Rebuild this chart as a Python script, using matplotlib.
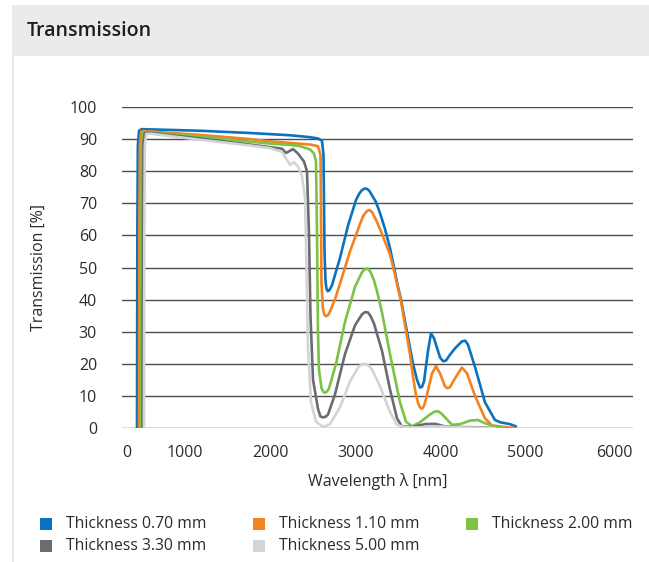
import matplotlib
matplotlib.use("Agg")
import matplotlib.pyplot as plt
import matplotlib.transforms as mtransforms
from matplotlib.patches import Rectangle

plt.rcParams['font.family'] = ['Open Sans', 'DejaVu Sans']

# ---------------- data ----------------
labels = ["Thickness 0.70 mm", "Thickness 1.10 mm", "Thickness 2.00 mm",
          "Thickness 3.30 mm", "Thickness 5.00 mm"]
colors = ["#0b72c0", "#f4821f", "#7cc243", "#6b6c6f", "#d3d4d6"]

wl_070 = [176, 180, 186, 200, 230, 916, 1503, 1973, 2207, 2301, 2348, 2366, 2372, 2378, 2389,
          2400, 2415, 2435, 2466, 2510, 2560, 2653, 2747, 2790, 2818, 2848, 2877, 2906, 2935,
          2980, 3029, 3088, 3147, 3194, 3240, 3276, 3311, 3346, 3381, 3417, 3464, 3499, 3522,
          3546, 3593, 3628, 3663, 3734, 3770, 3804, 3850, 3910, 3992, 4030, 4062, 4145, 4262,
          4379, 4438, 4556, 4626]
tr_070 = [0, 60, 88, 92.6, 93.1, 92.6, 91.9, 91.2, 90.6, 90.2, 89.5, 85, 70, 55, 46,
          43.5, 42.6, 42.9, 44.5, 48.5, 53, 63, 71, 73.2, 74.1, 74.6, 74.5, 73.8, 72.5,
          70.5, 67, 62, 56, 50, 44, 40, 35, 30, 25, 20, 15, 12.6, 12.8,
          14.5, 24, 29.5, 28, 22, 20.8, 21, 22.8, 24.8, 27, 27.2, 26, 19, 8,
          2.5, 1.8, 1.2, 0.5]

wl_110 = [200, 204, 210, 225, 260, 916, 1503, 1738, 2207, 2301, 2331, 2336, 2342, 2360, 2378,
          2395, 2420, 2442, 2500, 2560, 2677, 2794, 2835, 2877, 2906, 2935, 2980, 3029, 3088,
          3147, 3194, 3240, 3276, 3311, 3346, 3381, 3417, 3450, 3480, 3500, 3522, 3545, 3569,
          3640, 3687, 3734, 3792, 3820, 3851, 3922, 3992, 4051, 4145, 4262, 4344, 4497, 4614]
tr_110 = [0, 60, 88, 92.4, 92.5, 91.3, 90.0, 89.3, 88.3, 87.8, 85, 70, 45, 37, 35.2,
          34.8, 35.2, 36.3, 40, 45, 55, 63.5, 66.2, 67.6, 67.9, 67.3, 65, 62, 58,
          54, 49, 43.5, 39.5, 34, 28.5, 23, 16, 10.5, 7.5, 6.4, 6, 6.8, 9,
          17, 19.3, 17, 13, 12.4, 12.7, 16, 18.8, 17, 10, 3, 0.8, 0.3, 0]

wl_200 = [223, 227, 233, 248, 290, 916, 1503, 1738, 1973, 2090, 2207, 2254, 2278, 2290, 2301,
          2313, 2342, 2365, 2383, 2405, 2430, 2513, 2618, 2736, 2818, 2853, 2888, 2920, 2959,
          3000, 3053, 3147, 3264, 3334, 3405, 3499, 3616, 3670, 3710, 3750, 3804, 3875, 3969,
          4086, 4180, 4262, 4379, 4497]
tr_200 = [0, 60, 88, 92.0, 92.2, 90.8, 89.2, 88.6, 88.2, 87.8, 86.8, 85.5, 83, 60, 30,
          18, 12.5, 11.2, 11, 11.3, 12.3, 20, 33, 44, 48.5, 49.5, 49.6, 48.5, 46,
          42, 36, 23, 8, 2, 0.5, 1.8, 4.2, 5.1, 5.2, 4.5, 3, 1, 1.2,
          2.3, 2.5, 1.5, 0.5, 0]

wl_330 = [241, 245, 251, 266, 310, 916, 1503, 1738, 1879, 1925, 1961, 2008, 2066, 2137, 2172,
          2196, 2213, 2243, 2301, 2330, 2360, 2390, 2419, 2501, 2618, 2736, 2818, 2853, 2888,
          2920, 2959, 3053, 3147, 3229, 3287, 3405, 3558, 3675, 3792, 3969, 4203, 4379]
tr_330 = [0, 60, 88, 91.8, 92.0, 90.2, 88.3, 87.5, 87.0, 85.7, 86.2, 86.9, 85.5, 83, 80,
          60, 35, 15, 6, 3.6, 3.3, 3.5, 4.2, 10.5, 23, 32, 35.4, 36.1, 36,
          34.8, 32.5, 24, 12, 3, 0.5, 0.3, 1.2, 1.3, 0.5, 0.3, 0.2, 0]

wl_500 = [258, 262, 268, 285, 330, 916, 1503, 1738, 1879, 1925, 1973, 2019, 2066, 2113, 2149,
          2166, 2184, 2219, 2278, 2360, 2442, 2560, 2677, 2771, 2812, 2853, 2894, 2935, 3029,
          3147, 3229, 3323, 3499, 3734, 3969, 4379]
tr_500 = [0, 60, 88, 91.6, 91.7, 89.8, 88.0, 87.2, 86.0, 84, 82, 82.8, 81.5, 78.5, 72,
          50, 25, 8, 2, 0.3, 1.2, 6.5, 14.5, 18.8, 19.8, 20, 19.5, 18.3, 13,
          5, 1, 0.2, 0.2, 0.5, 0.2, 0]

series_wl = [wl_070, wl_110, wl_200, wl_330, wl_500]
series_tr = [tr_070, tr_110, tr_200, tr_330, tr_500]

x_ticks = [0, 1000, 2000, 3000, 4000, 5000, 6000]
y_ticks = [0, 10, 20, 30, 40, 50, 60, 70, 80, 90, 100]

# ---------------- figure ----------------
W, H = 649, 562
fig = plt.figure(figsize=(W / 100, H / 100), dpi=100)
fig.patch.set_facecolor("white")

# header band and panel border
fig.add_artist(Rectangle((12 / W, 1 - 56 / H), 1 - 12 / W, 51 / H,
                         transform=fig.transFigure, facecolor="#ebebec",
                         edgecolor="none", zorder=0))
fig.add_artist(plt.Line2D([12.5 / W, 12.5 / W], [0, 1 - 56 / H],
                          transform=fig.transFigure, color="#e4e4e4", lw=1.2))
fig.text(27 / W, 1 - 31 / H, "Transmission", fontsize=14, fontweight="semibold",
         color="#1e1e1e", ha="left", va="center")

ax = fig.add_axes([122 / W, 1 - 428 / H, (633 - 122) / W, (428 - 107) / H])
for wl, tr, c, lab in zip(series_wl, series_tr, colors, labels):
    ax.plot(wl, tr, color=c, lw=1.9, label=lab, solid_joinstyle="round",
            solid_capstyle="round", zorder=3)

ax.set_xlim(0, 6000)
ax.set_ylim(0, 100)
ax.set_xticks(x_ticks)
ax.set_yticks(y_ticks)
ax.set_xticklabels([str(v) for v in x_ticks])
ax.set_yticklabels([str(v) for v in y_ticks])
ax.grid(axis="y", color="#4d4d4d", lw=1.0, zorder=1)
ax.set_axisbelow(True)
for s in ax.spines.values():
    s.set_visible(False)
ax.tick_params(axis="both", length=0, labelsize=11.5, colors="#2b2b2b")
ax.tick_params(axis="y", pad=18)
ax.tick_params(axis="x", pad=12)

for i, t in enumerate(ax.get_xticklabels()):
    if i == 0:
        t.set_ha("left")
    else:
        t.set_ha("right")
        if i < len(x_ticks) - 1:
            t.set_transform(t.get_transform() +
                            mtransforms.ScaledTranslation(-4 / 100, 0, fig.dpi_scale_trans))

ax.set_xlabel("Wavelength λ [nm]", fontsize=11.5, color="#2b2b2b")
ax.set_ylabel("Transmission [%]", fontsize=11.5, color="#2b2b2b")
ax.xaxis.set_label_coords(0.5, (428 - 481) / 321)
ax.xaxis.label.set_va("center")
ax.yaxis.set_label_coords((39 - 122) / 511, 0.5)
ax.yaxis.label.set_va("center")

# legend
cols_x = [40, 253, 466]
rows_y = [524, 546]
for i, (lab, c) in enumerate(zip(labels, colors)):
    r, k = divmod(i, 3)
    x0 = cols_x[k]
    y0 = rows_y[r]
    fig.add_artist(Rectangle((x0 / W, 1 - (y0 + 6) / H), 12 / W, 12 / H,
                             transform=fig.transFigure, facecolor=c, edgecolor="none"))
    fig.text((x0 + 26) / W, 1 - y0 / H, lab, fontsize=11.3, color="#2b2b2b",
             ha="left", va="center")

fig.savefig("out.png", dpi=100)
